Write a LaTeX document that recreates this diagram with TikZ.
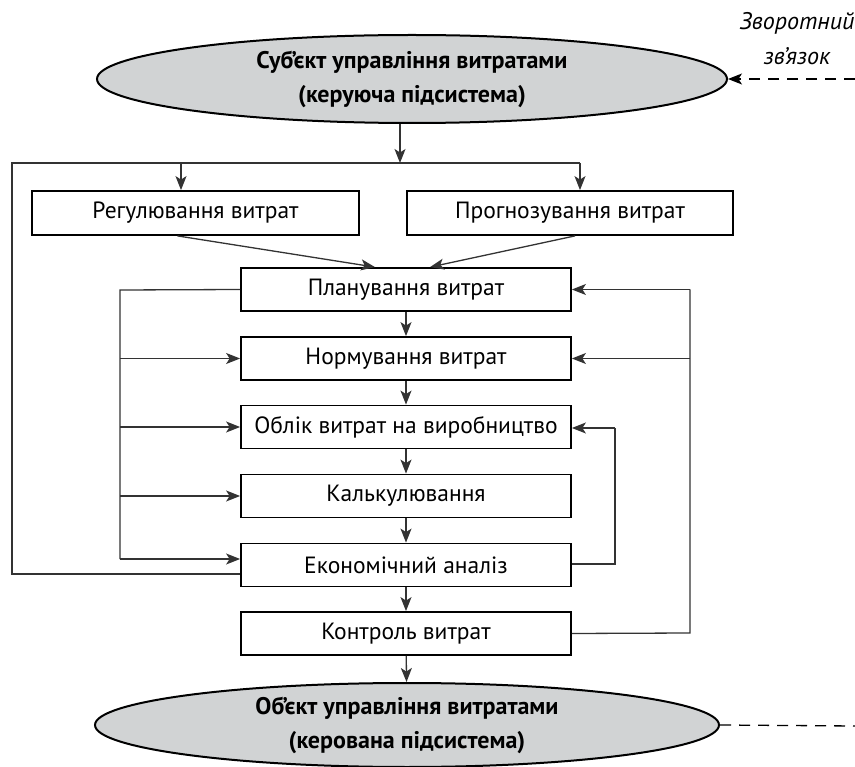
\documentclass[tikz,border=0pt]{standalone}
\usepackage{fontspec}
\setmainfont{PT Sans}
\usetikzlibrary{arrows.meta,shapes.geometric}
\definecolor{ellgray}{HTML}{D1D3D4}
\definecolor{linegray}{HTML}{333333}
\begin{document}
\begin{tikzpicture}[x=1pt,y=-1pt,
  box/.style={draw=black,line width=1.8pt,minimum width=330pt,minimum height=43pt,inner sep=0pt,font=\fontsize{23.5}{26}\selectfont},
  ell/.style={ellipse,draw=black,line width=2pt,fill=ellgray,inner sep=0pt,align=center,font=\fontsize{24}{34}\selectfont\bfseries},
  conn/.style={draw=linegray,line width=1.3pt},
  arr/.style={conn,-{Stealth[length=14pt,width=11pt,inset=3.5pt]}},
  fbline/.style={draw=black,line width=1.3pt,dash pattern=on 11pt off 8pt},
]
\useasboundingbox (0,0) rectangle (855,767);
\node[ell,minimum width=630pt,minimum height=88pt] (subj) at (412,79) {Суб’єкт управління витратами\\(керуюча підсистема)};
\node[ell,minimum width=624pt,minimum height=84pt] (obj) at (407,725) {Об’єкт управління витратами\\(керована підсистема)};
\node[font=\fontsize{24}{35}\selectfont\itshape,align=center] (fb) at (797,39) {Зворотний\\зв’язок};

\node[box,minimum width=327pt,minimum height=44pt] (reg) at (195.5,213) {Регулювання витрат};
\node[box,minimum width=326pt,minimum height=44pt] (prog) at (570,213) {Прогнозування витрат};
\node[box] (plan) at (406,289.5) {Планування витрат};
\node[box] (norm) at (406,358.5) {Нормування витрат};
\node[box] (oblik) at (406,427) {Облік витрат на виробництво};
\node[box] (kalk) at (406,496) {Калькулювання};
\node[box] (ekon) at (406,565) {Економічний аналіз};
\node[box] (kontr) at (406,633.5) {Контроль витрат};

\coordinate (tj) at (400,163);
\coordinate (tl) at (12,163);
\coordinate (ta) at (181,163);
\coordinate (tb) at (580,163);
\coordinate (lb) at (120,290);
\coordinate (rb) at (690,633);
\coordinate (ib) at (615,564);
\coordinate (fbin) at (855,79);
\coordinate (fbout) at (855,726);

% top distribution
\draw[arr] (tj |- subj.south) -- (tj);
\draw[conn] ([yshift=-9pt]ekon.west) -| (tl) -- (tb);
\draw[arr] (ta) -- (ta |- reg.north);
\draw[arr] (tb) -- (tb |- prog.north);
\draw[arr] ([xshift=-18pt]reg.south) -- ([xshift=-31pt]plan.north);
\draw[arr] ([xshift=5pt]prog.south) -- ([xshift=24pt]plan.north);

% main column
\draw[arr] (plan) -- (norm);
\draw[arr] (norm) -- (oblik);
\draw[arr] (oblik) -- (kalk);
\draw[arr] (kalk) -- (ekon);
\draw[arr] (ekon) -- (kontr);
\draw[arr] (kontr) -- (obj);

% left bus
\draw[conn] (plan.west) -- (lb) -- (lb |- 0,559);
\draw[arr] (lb |- norm.west) -- (norm.west);
\draw[arr] (lb |- oblik.west) -- (oblik.west);
\draw[arr] (lb |- kalk.west) -- (kalk.west);
\draw[arr] (lb |- 0,559) -- ([yshift=6pt]ekon.west);

% right bus
\draw[conn] (kontr.east) -- (rb) -- (rb |- plan.east);
\draw[arr] (rb |- plan.east) -- (plan.east);
\draw[arr] (rb |- norm.east) -- (norm.east);

% inner loop
\draw[conn] (ekon.east |- ib) -- (ib) -- (ib |- 0,428);
\draw[arr] (ib |- 0,428) -- ([yshift=-1pt]oblik.east);

% feedback dashed
\draw[fbline,-{Stealth[length=14pt,width=11pt,inset=3.5pt]}] (fbin) -- (subj.east);
\draw[fbline] (obj.east) -- (fbout);
\end{tikzpicture}
\end{document}
